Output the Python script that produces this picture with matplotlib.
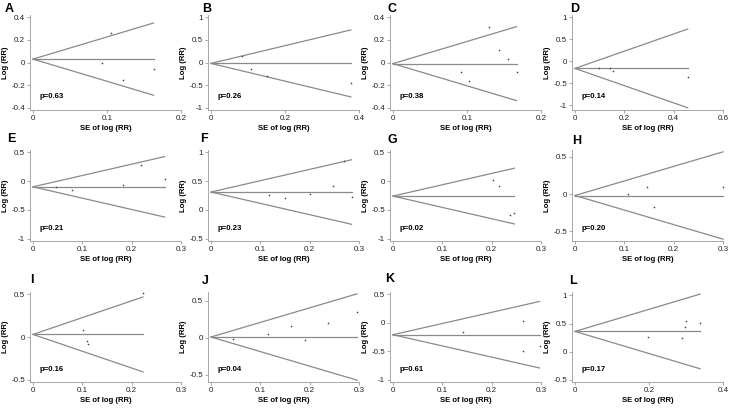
import matplotlib
matplotlib.use('Agg')
import matplotlib.pyplot as plt

plt.rcParams['font.family'] = ['Liberation Sans', 'DejaVu Sans']

# Begg's funnel plots, one panel per comparison
labels = ['A', 'B', 'C', 'D', 'E', 'F', 'G', 'H', 'I', 'J', 'K', 'L']
p_values = ['0.63', '0.26', '0.38', '0.14', '0.21', '0.23', '0.02', '0.20', '0.16', '0.04', '0.61', '0.17']
pooled = [0.03, -0.02, -0.01, -0.165, -0.10, 0.31, -0.26, -0.02, 0.03, 0.01, -0.21, 0.36]

se_A = [0.093, 0.105, 0.122, 0.163]
lrr_A = [0.0, 0.26, -0.155, -0.055]
se_B = [0.083, 0.108, 0.151, 0.378]
lrr_B = [0.14, -0.14, -0.30, -0.46]
se_C = [0.0925, 0.103, 0.130, 0.143, 0.155, 0.167]
lrr_C = [-0.08, -0.16, 0.317, 0.107, 0.034, -0.08]
se_D = [0.099, 0.142, 0.155, 0.457]
lrr_D = [-0.165, -0.16, -0.23, -0.37]
se_E = [0.047, 0.079, 0.183, 0.218, 0.267]
lrr_E = [-0.11, -0.16, -0.07, 0.275, 0.03]
se_F = [0.117, 0.150, 0.200, 0.247, 0.269, 0.285]
lrr_F = [0.26, 0.21, 0.28, 0.42, 0.85, 0.23]
se_G = [0.203, 0.214, 0.237, 0.246]
lrr_G = [0.01, -0.09, -0.59, -0.56]
se_H = [0.107, 0.146, 0.161, 0.300]
lrr_H = [0.0, 0.09, -0.18, 0.095]
se_I = [0.101, 0.109, 0.111, 0.223]
lrr_I = [0.078, -0.05, -0.08, 0.51]
se_J = [0.044, 0.116, 0.162, 0.191, 0.237, 0.296]
lrr_J = [-0.013, 0.053, 0.158, -0.035, 0.20, 0.35]
se_K = [0.142, 0.263, 0.263, 0.297]
lrr_K = [-0.17, 0.03, -0.49, -0.41]
se_L = [0.196, 0.289, 0.296, 0.300, 0.338]
lrr_L = [0.27, 0.24, 0.43, 0.55, 0.51]

se_all = [se_A, se_B, se_C, se_D, se_E, se_F, se_G, se_H, se_I, se_J, se_K, se_L]
lrr_all = [lrr_A, lrr_B, lrr_C, lrr_D, lrr_E, lrr_F, lrr_G, lrr_H, lrr_I, lrr_J, lrr_K, lrr_L]

xticks_all = [
    [0, 0.1, 0.2], [0, 0.2, 0.4], [0, 0.1, 0.2], [0, 0.2, 0.4, 0.6],
    [0, 0.1, 0.2, 0.3], [0, 0.1, 0.2, 0.3], [0, 0.1, 0.2, 0.3], [0, 0.1, 0.2, 0.3],
    [0, 0.1, 0.2, 0.3], [0, 0.1, 0.2, 0.3], [0, 0.1, 0.2, 0.3], [0, 0.2, 0.4],
]
yticks_all = [
    [-0.4, -0.2, 0, 0.2, 0.4], [-1, -0.5, 0, 0.5, 1], [-0.4, -0.2, 0, 0.2, 0.4], [-1, -0.5, 0, 0.5, 1],
    [-1, -0.5, 0, 0.5], [-0.5, 0, 0.5, 1], [-1, -0.5, 0, 0.5], [-0.5, 0, 0.5],
    [-0.5, 0, 0.5], [-0.5, 0, 0.5], [-1, -0.5, 0, 0.5], [-0.5, 0, 0.5, 1],
]

W, H = 732, 409
fig = plt.figure(figsize=(W / 100, H / 100), dpi=100)

col_left = [30, 208, 390, 572]
col_w = 151
row_top = [15, 150, 292]
row_bot = [110, 241, 382]
letter_x = [5, 202, 388, 570, 7, 200, 388, 572, 30, 202, 385, 569]
letter_y = [9.5, 9.5, 9.5, 9.5, 139, 139, 140, 141, 280, 281, 279, 281]

line_col = '#8a8a8a'
axis_col = '#9a9a9a'

for i in range(12):
    r, c = divmod(i, 4)
    ax = fig.add_axes([col_left[c] / W, (H - row_bot[r]) / H,
                       col_w / W, (row_bot[r] - row_top[r]) / H])
    se, lrr, b = se_all[i], lrr_all[i], pooled[i]
    smax = max(se)
    hi, lo = b + 1.96 * smax, b - 1.96 * smax
    ax.plot([0, smax], [b, b], color=line_col, lw=0.9, clip_on=False)
    ax.plot([0, smax], [b, hi], color=line_col, lw=0.9, clip_on=False)
    ax.plot([0, smax], [b, lo], color=line_col, lw=0.9, clip_on=False)
    ax.scatter(se, lrr, s=1.4, color='#444444', zorder=3, linewidths=0, clip_on=False)

    xt, yt = xticks_all[i], yticks_all[i]
    ax.set_xticks(xt)
    ax.set_yticks(yt)
    ax.set_xticklabels([f'{v:g}' for v in xt])
    ax.set_yticklabels([f'{v:g}' for v in yt])
    ax.set_xlim(-0.02 * xt[-1], xt[-1])
    ypad = 0.025 * (yt[-1] - yt[0])
    ax.set_ylim(min(yt[0], lo) - ypad, max(yt[-1], hi) + ypad)

    for s in ['top', 'right']:
        ax.spines[s].set_visible(False)
    for s in ['left', 'bottom']:
        ax.spines[s].set_color(axis_col)
        ax.spines[s].set_linewidth(0.6)
    ax.tick_params(direction='out', length=2, width=0.6, color=axis_col,
                   labelsize=5.8, pad=1.5, labelcolor='#222222')
    ax.set_xlabel('SE of log (RR)', fontsize=5.6, fontweight='bold', labelpad=2)
    ax.set_ylabel('Log (RR)', fontsize=5.6, fontweight='bold', labelpad=2)
    ax.text(0.06, 0.14, 'p=' + p_values[i], transform=ax.transAxes,
            fontsize=5.6, fontweight='bold', ha='left', va='center')

    fig.text(letter_x[i] / W, 1 - letter_y[i] / H, labels[i], fontsize=9,
             fontweight='bold', ha='left', va='center')

fig.savefig('out.png', dpi=100)
